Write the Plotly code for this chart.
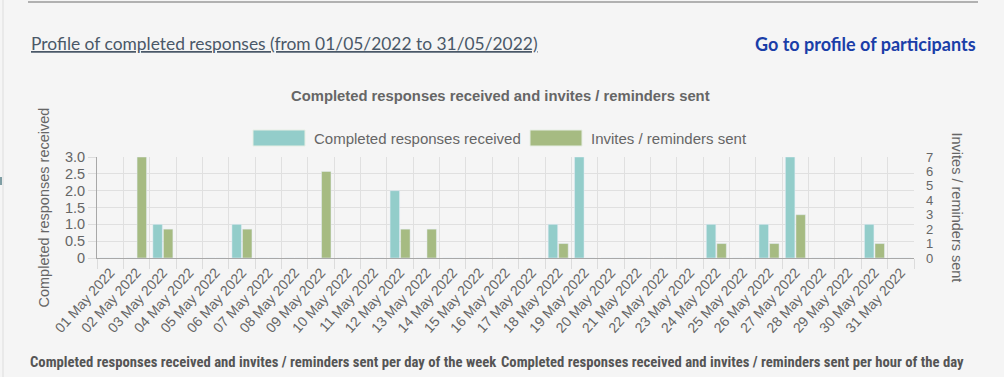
import plotly.graph_objects as go

days = ["01 May 2022", "02 May 2022", "03 May 2022", "04 May 2022", "05 May 2022",
        "06 May 2022", "07 May 2022", "08 May 2022", "09 May 2022", "10 May 2022",
        "11 May 2022", "12 May 2022", "13 May 2022", "14 May 2022", "15 May 2022",
        "16 May 2022", "17 May 2022", "18 May 2022", "19 May 2022", "20 May 2022",
        "21 May 2022", "22 May 2022", "23 May 2022", "24 May 2022", "25 May 2022",
        "26 May 2022", "27 May 2022", "28 May 2022", "29 May 2022", "30 May 2022",
        "31 May 2022"]
completed = [0, 0, 1, 0, 0, 1, 0, 0, 0, 0, 0, 2, 0, 0, 0, 0, 0, 1, 3, 0,
             0, 0, 0, 1, 0, 1, 3, 0, 0, 1, 0]
invites = [0, 7, 2, 0, 0, 2, 0, 0, 6, 0, 0, 2, 2, 0, 0, 0, 0, 1, 0, 0,
           0, 0, 0, 1, 0, 1, 3, 0, 0, 1, 0]
left_tickvals = [0, 0.5, 1, 1.5, 2, 2.5, 3]
left_ticktext = ["0", "0.5", "1.0", "1.5", "2.0", "2.5", "3.0"]
right_tickvals = [0, 1, 2, 3, 4, 5, 6, 7]

TEAL = "#93cdca"
GREEN = "#a6bb82"
BG = "#f5f5f5"
GREY = "#666666"

W, H = 1004, 377
L, R, T, B = 97, 90, 157, 119
PW, PH = W - L - R, H - T - B


def px(x):
    return (x - L) / PW


def py(y):
    return (H - B - y) / PH


fig = go.Figure()
fig.add_trace(go.Bar(x=days, y=completed, name="Completed responses received",
                     marker_color=TEAL, offsetgroup="1", yaxis="y"))
fig.add_trace(go.Bar(x=days, y=invites, name="Invites / reminders sent",
                     marker_color=GREEN, offsetgroup="2", yaxis="y2"))

ann = []
shapes = []
# Header texts
ann.append(dict(text="<u>Profile of completed responses (from 01/05/2022 to 31/05/2022)</u>",
                x=px(29), y=py(44), xref="paper", yref="paper", xanchor="left", yanchor="middle",
                showarrow=False, font=dict(family="Lato", size=17.4, color="#4a5868")))
ann.append(dict(text="<b>Go to profile of participants</b>",
                x=px(978), y=py(44), xref="paper", yref="paper", xanchor="right", yanchor="middle",
                showarrow=False, font=dict(family="Lato", size=18, color="#1a3ea8")))
# Chart title
ann.append(dict(text="<b>Completed responses received and invites / reminders sent</b>",
                x=px(500), y=py(96), xref="paper", yref="paper", xanchor="center", yanchor="middle",
                showarrow=False, font=dict(family="Liberation Sans", size=14.8, color=GREY)))
# Legend
leg = [(253, TEAL, "Completed responses received"), (530, GREEN, "Invites / reminders sent")]
for x0, col, name in leg:
    shapes.append(dict(type="rect", xref="paper", yref="paper", x0=px(x0), x1=px(x0 + 52),
                       y0=py(146), y1=py(130), fillcolor=col, line=dict(width=1, color="#e6eee4")))
    ann.append(dict(text=name, x=px(x0 + 59), y=py(138), xref="paper", yref="paper",
                    xanchor="left", yanchor="middle", showarrow=False,
                    font=dict(family="Liberation Sans", size=15, color=GREY)))
# Axis titles
ann.append(dict(text="Completed responses received", x=px(43), y=0.5, xref="paper", yref="paper",
                xanchor="center", yanchor="middle", textangle=-90, showarrow=False,
                font=dict(family="Liberation Sans", size=14.5, color=GREY)))
ann.append(dict(text="Invites / reminders sent", x=px(957), y=0.5, xref="paper", yref="paper",
                xanchor="center", yanchor="middle", textangle=90, showarrow=False,
                font=dict(family="Liberation Sans", size=14.5, color=GREY)))
# Bottom headings
bfont = dict(family="Liberation Sans Narrow, Roboto Condensed, Liberation Sans", size=14.7, color="#555555")
ann.append(dict(text="<b>Completed responses received and invites / reminders sent per day of the week</b>",
                x=px(28), y=py(362), xref="paper", yref="paper", xanchor="left", yanchor="middle",
                showarrow=False, font=bfont))
ann.append(dict(text="<b>Completed responses received and invites / reminders sent per hour of the day</b>",
                x=px(499), y=py(362), xref="paper", yref="paper", xanchor="left", yanchor="middle",
                showarrow=False, font=bfont))
# Page decorations
shapes.append(dict(type="line", xref="paper", yref="paper", x0=px(28), x1=px(978), y0=py(2), y1=py(2),
                   line=dict(color="#9a9a9a", width=1.5)))
shapes.append(dict(type="line", xref="paper", yref="paper", x0=px(3), x1=px(3), y0=py(0), y1=py(377),
                   line=dict(color="#dddddd", width=1)))
shapes.append(dict(type="rect", xref="paper", yref="paper", x0=px(0), x1=px(2), y0=py(185), y1=py(177),
                   fillcolor="#7f9ea4", line=dict(width=0)))

fig.update_layout(
    width=W, height=H,
    margin=dict(l=L, r=R, t=T, b=B),
    paper_bgcolor=BG, plot_bgcolor=BG,
    barmode="group", bargap=0.2, bargroupgap=0.1,
    showlegend=False,
    annotations=ann, shapes=shapes,
    font=dict(family="Liberation Sans", color=GREY),
    xaxis=dict(type="category", tickson="boundaries", ticks="outside", ticklen=10,
               tickcolor="#dcdcdc", showgrid=True, gridcolor="#e0e0e0", tickangle=-48,
               tickfont=dict(size=14, color=GREY), showline=True, linecolor="#a8a8a8",
               automargin=False, range=[-0.5, 30.5]),
    yaxis=dict(range=[0, 3], tickvals=left_tickvals, ticktext=left_ticktext,
               ticks="outside", ticklen=8, tickcolor="#dcdcdc", showgrid=True, gridcolor="#e0e0e0",
               tickfont=dict(size=14.5, color=GREY), showline=True, linecolor="#a8a8a8",
               zeroline=False, automargin=False),
    yaxis2=dict(range=[0, 7], tickvals=right_tickvals, overlaying="y", side="right",
                showgrid=False, ticks="", ticklabelstandoff=11, zeroline=False,
                tickfont=dict(size=13, color=GREY), automargin=False),
)

fig.write_html("out.html", config={"displayModeBar": False},
               post_script="document.body.style.margin='0';document.body.style.overflow='hidden';document.body.style.background='#f5f5f5';")
